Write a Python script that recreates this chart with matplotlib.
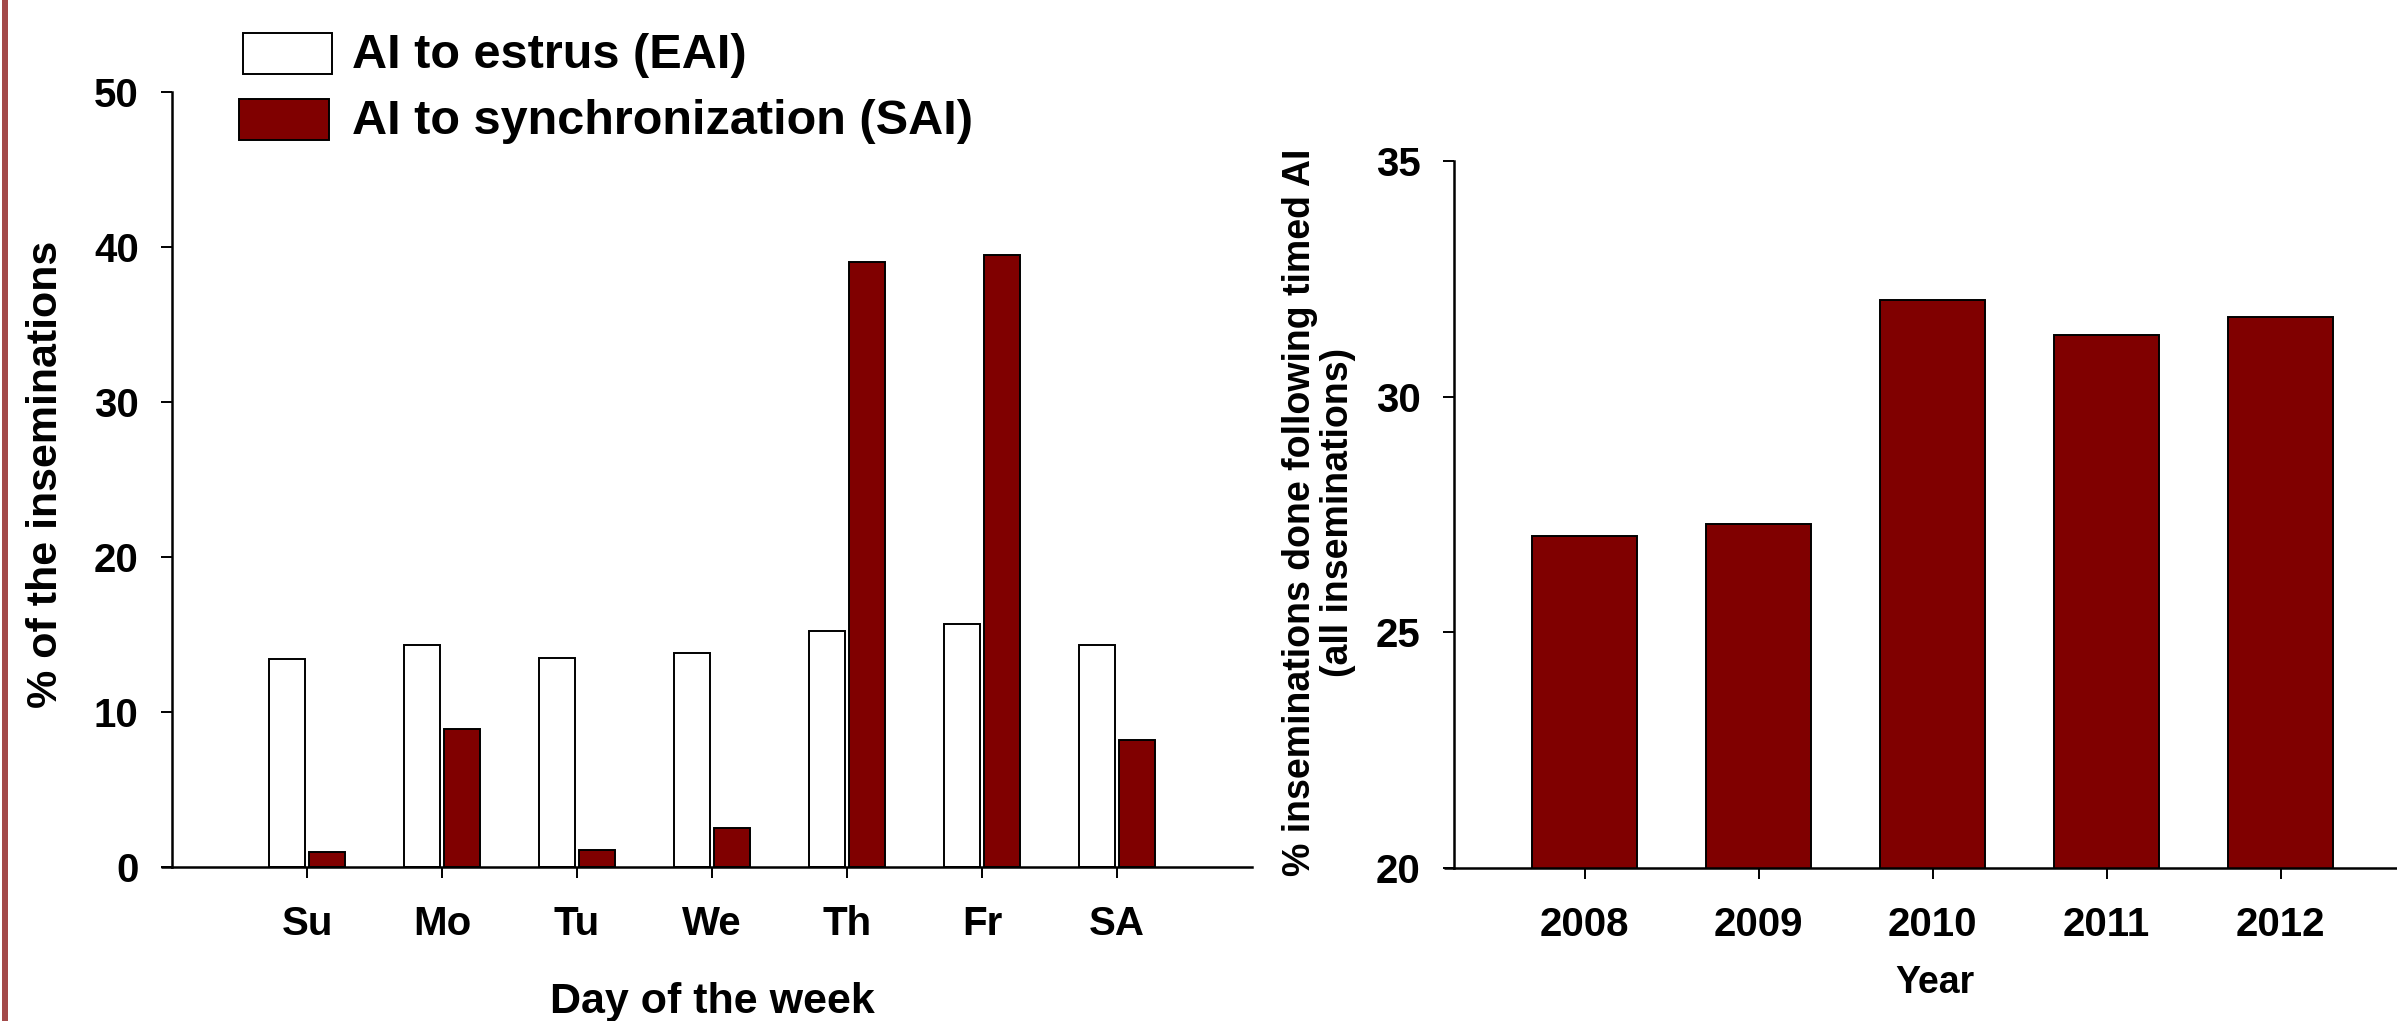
import numpy as np
import matplotlib
matplotlib.use('Agg')
import matplotlib.pyplot as plt
from matplotlib.patches import Rectangle

# Données
days = ["Su", "Mo", "Tu", "We", "Th", "Fr", "SA"]
eai = [13.4, 14.3, 13.5, 13.8, 15.2, 15.7, 14.3]
sai = [1.0, 8.9, 1.1, 2.5, 39.0, 39.5, 8.2]

years = ["2008", "2009", "2010", "2011", "2012"]
timed_ai = [27.05, 27.3, 32.05, 31.3, 31.7]

RED = "#800000"
W, H = 2397, 1021

plt.rcParams['font.family'] = ['Liberation Sans', 'DejaVu Sans']
plt.rcParams['font.weight'] = 'bold'

fig = plt.figure(figsize=(W / 100, H / 100), dpi=100)


def px_axes(x0, y0, x1, y1):
    """Axes à partir de coordonnées pixels (origine en haut à gauche)."""
    return fig.add_axes([x0 / W, 1 - y1 / H, (x1 - x0) / W, (y1 - y0) / H])


def style(ax):
    for s in ["top", "right"]:
        ax.spines[s].set_visible(False)
    for s in ["left", "bottom"]:
        ax.spines[s].set_linewidth(1.8)
    ax.tick_params(direction="out", length=8, width=1.4, labelsize=29)
    ax.tick_params(axis="y", pad=16)
    ax.tick_params(axis="x", pad=19)
    for lab in ax.get_xticklabels() + ax.get_yticklabels():
        lab.set_fontweight("bold")


# --- Graphique de gauche : jour de la semaine
ax1 = px_axes(172, 92, 1252, 867)
x = np.arange(len(days))
w = 0.26
ax1.bar(x - w / 2 - 0.018, eai, w, color="white", edgecolor="black", linewidth=1.4)
ax1.bar(x + w / 2 + 0.018, sai, w, color=RED, edgecolor="black", linewidth=1.4)
ax1.set_xlim(-1, 7)
ax1.set_ylim(0, 50)
ax1.set_xticks(x)
ax1.set_xticklabels(days)
ax1.set_yticks([0, 10, 20, 30, 40, 50])
style(ax1)
ax1.plot([-11 / 1080, 0], [0, 0], transform=ax1.transAxes, color="black",
         lw=1.8, clip_on=False, solid_capstyle="butt")

# --- Graphique de droite : année
ax2 = px_axes(1454, 161, 2411, 868)
xr = np.arange(len(years))
ax2.bar(xr, timed_ai, 0.6, color=RED, edgecolor="black", linewidth=1.4)
ax2.set_xlim(-0.75, 4.75)
ax2.set_ylim(20, 35)
ax2.set_xticks(xr)
ax2.set_xticklabels(years)
ax2.set_yticks([20, 25, 30, 35])
style(ax2)
ax2.plot([-10 / 957, 0], [0, 0], transform=ax2.transAxes, color="black",
         lw=1.8, clip_on=False, solid_capstyle="butt")

# Titres d'axes
fig.text(46 / W, 1 - 474 / H, "% of the inseminations", rotation=90,
         ha="center", va="center", fontsize=31, fontweight="bold")
fig.text(712 / W, 1 - 1002 / H, "Day of the week", ha="center", va="center",
         fontsize=31, fontweight="bold")
fig.text(1319 / W, 1 - 512 / H,
         "% inseminations done following timed AI\n(all inseminations)",
         rotation=90, ha="center", va="center", fontsize=27, fontweight="bold",
         multialignment="center", linespacing=1.05)
fig.text(1935 / W, 1 - 983 / H, "Year", ha="center", va="center",
         fontsize=27, fontweight="bold")

# Légende dessinée à la main
fig.add_artist(Rectangle((243 / W, 1 - 74 / H), 89 / W, 41 / H,
                         transform=fig.transFigure, facecolor="white",
                         edgecolor="black", linewidth=1.4))
fig.add_artist(Rectangle((239 / W, 1 - 140 / H), 90 / W, 41 / H,
                         transform=fig.transFigure, facecolor=RED,
                         edgecolor="black", linewidth=1.4))
fig.text(352 / W, 1 - 55 / H, "AI to estrus (EAI)", ha="left", va="center",
         fontsize=35, fontweight="bold")
fig.text(352 / W, 1 - 121 / H, "AI to synchronization (SAI)", ha="left",
         va="center", fontsize=35, fontweight="bold")

# Bordure gauche
fig.add_artist(Rectangle((2 / W, 0), 6 / W, 1, transform=fig.transFigure,
                         facecolor="#a34a4a", edgecolor="none"))

plt.savefig("out.png", dpi=100)
plt.close()
